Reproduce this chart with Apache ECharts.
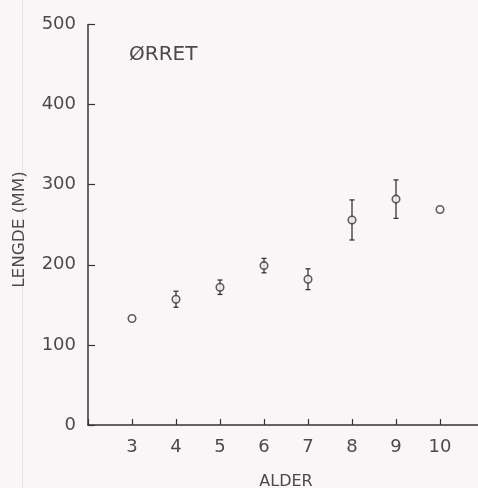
<!DOCTYPE html>
<html>
<head>
<meta charset="utf-8">
<script src="https://cdn.jsdelivr.net/npm/echarts@6/dist/echarts.min.js"></script>
<style>
  html, body { margin: 0; padding: 0; background: #faf6f8; }
  #chart { width: 478px; height: 488px; }
</style>
</head>
<body>
<div id="chart"></div>
<script>
// Mean length (mm) of trout by age, with spread shown as error bars
const ages = [3, 4, 5, 6, 7, 8, 9, 10];
const meanLength = [133, 157, 172, 199, 182, 256, 282, 269];
const spread = [0, 10, 9, 9, 13, 25, 24, 0];
const yTicks = [0, 100, 200, 300, 400, 500];

const ink = '#363636';
const textInk = '#4a4a4a';
const font = '"DejaVu Sans", Verdana, sans-serif';

const points = ages.map((a, i) => [a, meanLength[i]]);
const bars = ages.map((a, i) => [a, meanLength[i] - spread[i], meanLength[i] + spread[i]]);

const chart = echarts.init(document.getElementById('chart'), null, { renderer: 'canvas' });
chart.setOption({
  backgroundColor: '#faf6f8',
  animation: false,
  grid: { left: 88, right: -6, top: 24.5, bottom: 63, outerBoundsMode: 'none', containLabel: false },
  xAxis: {
    type: 'value', min: 2, max: 11, interval: 1,
    name: 'ALDER', nameLocation: 'middle', nameGap: 49,
    nameTextStyle: { fontFamily: font, fontSize: 16, color: textInk },
    axisLine: { lineStyle: { color: ink, width: 1.5 } },
    axisTick: { inside: true, length: 6, lineStyle: { color: ink, width: 1.2 } },
    axisLabel: {
      margin: 13, fontFamily: font, fontSize: 18, color: textInk,
      formatter: v => (ages.indexOf(v) >= 0 ? String(v) : '')
    },
    splitLine: { show: false }
  },
  yAxis: {
    type: 'value', min: yTicks[0], max: yTicks[yTicks.length - 1], interval: 100,
    axisLine: { show: true, lineStyle: { color: ink, width: 1.5 } },
    axisTick: { show: true, inside: true, length: 7, lineStyle: { color: ink, width: 1.2 } },
    axisLabel: { margin: 12, fontFamily: font, fontSize: 18, color: textInk },
    splitLine: { show: false }
  },
  graphic: [
    { type: 'line', shape: { x1: 22.5, y1: 0, x2: 22.5, y2: 488 },
      style: { stroke: '#f1dfe6', lineWidth: 1 }, silent: true },
    { type: 'text', x: 129, y: 55,
      style: { text: 'ØRRET', font: '20px ' + font, fill: textInk, verticalAlign: 'middle' } },
    // vertical axis title, stretched along its baseline
    { type: 'text', x: 20, y: 229.5, rotation: Math.PI / 2, scaleX: 1.12,
      style: { text: 'LENGDE (MM)', font: '15px ' + font, fill: textInk,
               align: 'center', verticalAlign: 'middle' } }
  ],
  series: [
    {
      type: 'custom',
      data: bars,
      renderItem: (params, api) => {
        if (api.value(2) - api.value(1) <= 0) return null;
        const lo = api.coord([api.value(0), api.value(1)]);
        const hi = api.coord([api.value(0), api.value(2)]);
        const w = 2.5;
        const st = { stroke: ink, lineWidth: 1.3 };
        return {
          type: 'group',
          children: [
            { type: 'line', shape: { x1: lo[0], y1: lo[1], x2: hi[0], y2: hi[1] }, style: st },
            { type: 'line', shape: { x1: lo[0] - w, y1: lo[1], x2: lo[0] + w, y2: lo[1] }, style: st },
            { type: 'line', shape: { x1: hi[0] - w, y1: hi[1], x2: hi[0] + w, y2: hi[1] }, style: st }
          ]
        };
      },
      z: 2
    },
    {
      type: 'scatter',
      data: points,
      symbol: 'circle',
      symbolSize: 7.5,
      itemStyle: { color: '#faf6f8', borderColor: ink, borderWidth: 1.6 },
      z: 3
    }
  ]
});
</script>
</body>
</html>
